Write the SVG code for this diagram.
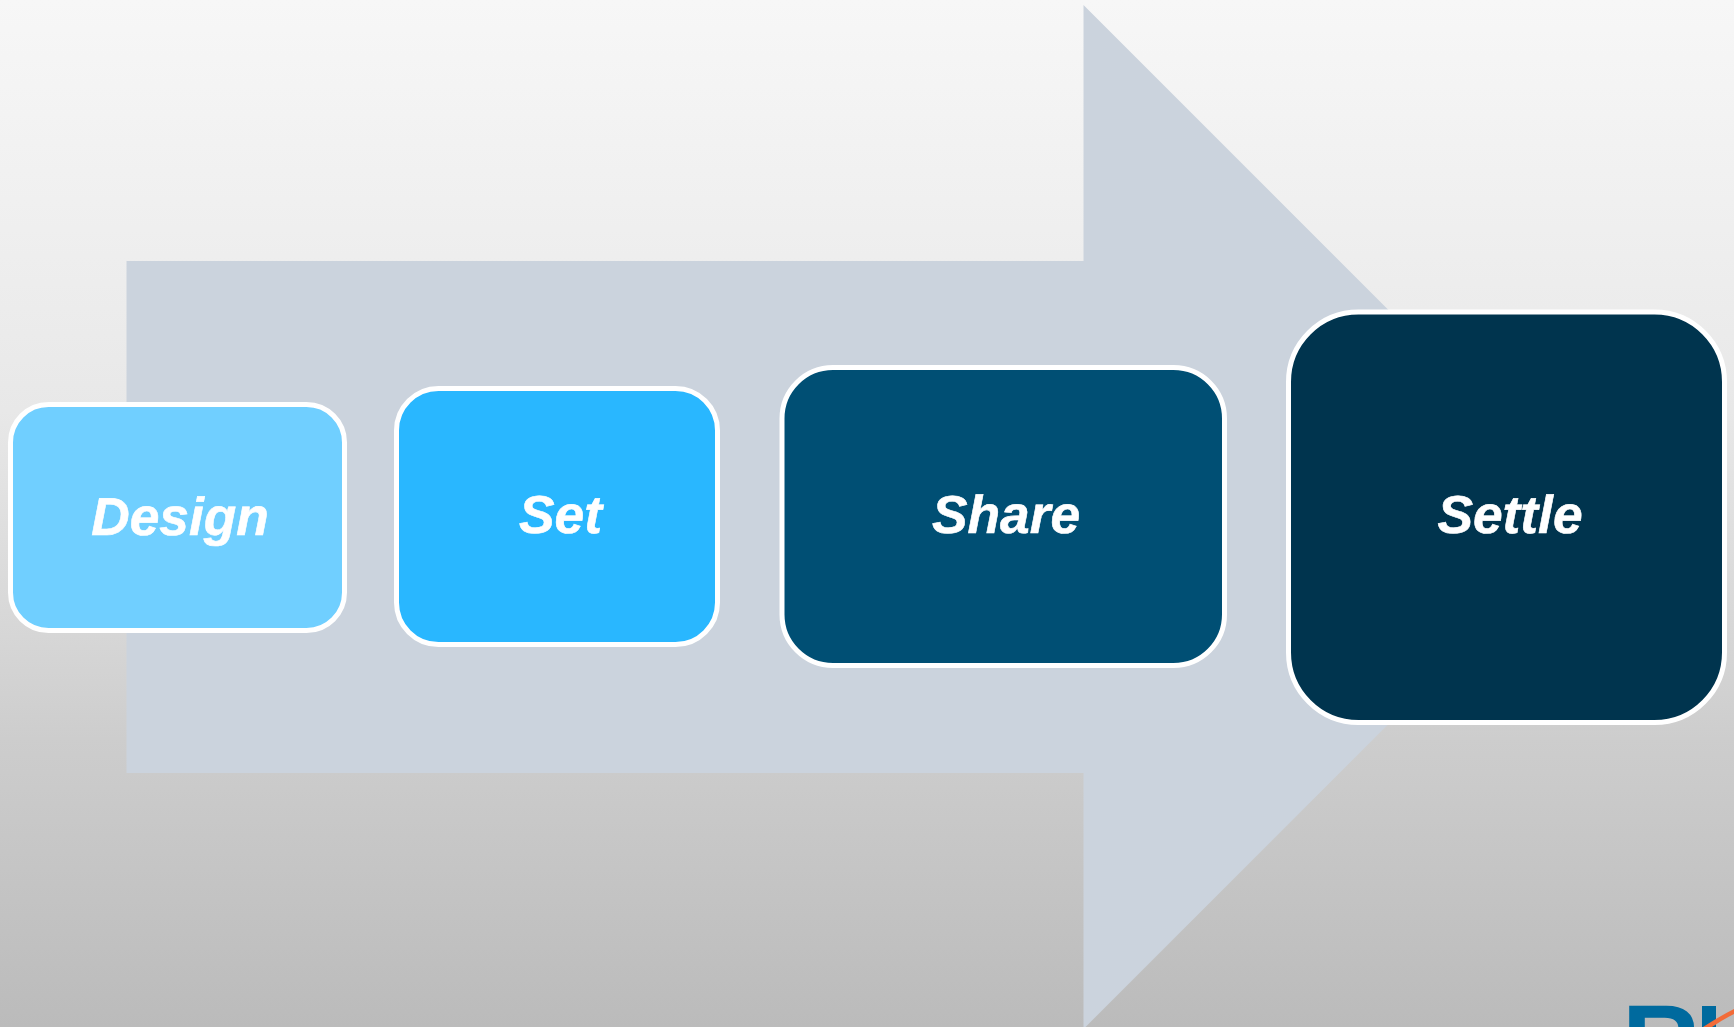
<svg xmlns="http://www.w3.org/2000/svg" width="1734" height="1027" viewBox="0 0 1734 1027">
<style>
.box{stroke:#fff;stroke-width:5}
.lbl{font-family:"Liberation Sans",Arial,sans-serif;font-weight:700;font-style:italic;font-size:53.3px;fill:#fff;stroke:#fff;stroke-width:.6;text-anchor:middle;text-rendering:geometricPrecision}
.logo{font-family:"Liberation Sans",Arial,sans-serif;font-weight:700;font-size:108px;fill:#006a9e;text-rendering:geometricPrecision}
</style>
<defs>
<linearGradient id="bg" x1="0" y1="0" x2="0" y2="1">
<stop offset="0" stop-color="#f7f7f7"/>
<stop offset="0.25" stop-color="#eeeeee"/>
<stop offset="0.4" stop-color="#e8e8e8"/>
<stop offset="0.62" stop-color="#d6d6d6"/>
<stop offset="0.72" stop-color="#cdcdcd"/>
<stop offset="1" stop-color="#bbbbbb"/>
</linearGradient>
</defs>
<rect id="background" width="1734" height="1027" fill="url(#bg)"/>
<polygon id="big-arrow" points="126.5,261 1083.5,261 1083.5,5 1595.5,517 1083.5,1029 1083.5,773 126.5,773" fill="#cbd3dd"/>
<g id="connectors"></g>
<g id="node-design"><rect class="box" x="10.5" y="404.5" width="334" height="226" rx="38" fill="#70cfff"/><text class="lbl" x="180" y="534.5">Design</text></g>
<g id="node-set"><rect class="box" x="396.5" y="388.5" width="321" height="256" rx="42" fill="#29b7ff"/><text class="lbl" x="560.5" y="533">Set</text></g>
<g id="node-share"><rect class="box" x="782" y="367.5" width="442.5" height="298" rx="51" fill="#004f74"/><text class="lbl" x="1006" y="533">Share</text></g>
<g id="node-settle"><rect class="box" x="1288.5" y="312" width="436" height="410.5" rx="70" fill="#00344e"/><text class="lbl" x="1510" y="533">Settle</text></g>
<g id="logo-fragment">
<text class="logo" x="1622" y="1080">R</text>
<rect x="1702" y="1006" width="14" height="21" fill="#006a9e"/>
<path d="M1703 1027Q1720 1016 1734 1009V1014Q1722 1020 1712 1027Z" fill="#f26b38"/>
</g>
</svg>
